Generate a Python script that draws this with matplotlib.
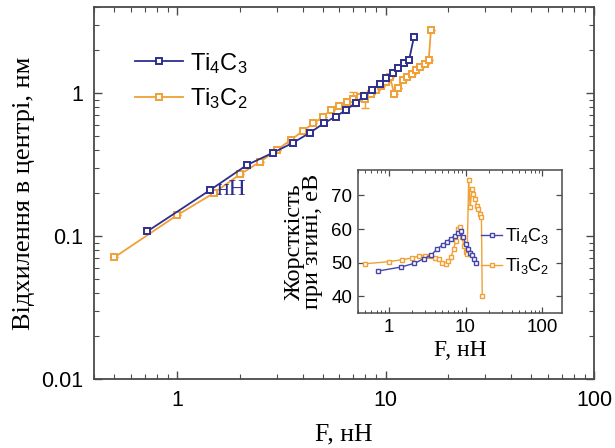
import matplotlib
matplotlib.use("Agg")
import matplotlib.pyplot as plt
from matplotlib.ticker import LogLocator, NullFormatter

# ---------------- data ----------------
ti4c3_F = [0.72, 1.44, 2.16, 2.88, 3.6, 4.32, 5.04, 5.76, 6.48, 7.2,
           7.92, 8.64, 9.36, 10.08, 10.8, 11.52, 12.24, 12.96, 13.68]
ti4c3_defl = [0.108, 0.21, 0.314, 0.383, 0.45, 0.527, 0.614, 0.687, 0.764, 0.86,
              0.96, 1.06, 1.16, 1.27, 1.38, 1.50, 1.62, 1.71, 2.47]
ti4c3_stiff = [47.5, 48.7, 49.8, 51.2, 52.3, 54.2, 55.3, 56.3, 57.2, 58.0,
               58.8, 59.3, 57.5, 55.5, 54.2, 53.0, 52.2, 51.0, 50.0]

ti3c2_F = [0.5, 1.0, 1.5, 2.0, 2.5, 3.0, 3.5, 4.0, 4.5, 5.0, 5.5, 6.0, 6.5,
           7.0, 7.5, 8.0, 8.5, 9.0, 9.5, 10.0, 10.5,
           11.0, 11.5, 12.1, 12.7, 13.4, 14.0, 14.7, 15.4, 16.1, 16.5]
ti3c2_defl = [0.071, 0.14, 0.20, 0.27, 0.331, 0.40, 0.469, 0.542, 0.614, 0.683,
              0.769, 0.811, 0.869, 0.918, 0.942, 0.904, 0.98, 1.05, 1.12, 1.20, 1.29,
              0.995, 1.096, 1.23, 1.29, 1.37, 1.45, 1.53, 1.61, 1.70, 2.76]
ti3c2_err = [0, 0, 0, 0, 0, 0, 0, 0, 0, 0, 0, 0, 0,
             0.10, 0.06, 0.12, 0, 0, 0, 0, 0,
             0, 0, 0, 0, 0, 0, 0, 0, 0, 0]
ti3c2_stiff = [49.7, 50.3, 50.9, 51.4, 52.0, 52.1, 52.0, 51.5, 51.0, 50.0, 49.5,
               50.5, 51.7, 54.2, 56.5, 60.1, 60.6, 57.5, 55.0, 53.2, 52.5,
               74.7, 66.5, 72.0, 70.5, 69.0, 67.0, 66.0, 64.5, 63.5, 40.0]

labels = [r'Ti$_4$C$_3$', r'Ti$_3$C$_2$']
main_xticks = [1, 10, 100]
main_xticklabels = ['1', '10', '100']
main_yticks = [0.01, 0.1, 1]
main_yticklabels = ['0.01', '0.1', '1']
inset_yticks = [40, 50, 60, 70]

BLUE = '#2e2e8e'
BLUE_IN = '#4646a8'
ORANGE = '#f0a035'
SANS = 'Liberation Sans'
SERIF = 'Liberation Serif'
FRAME = '#4a4a4a'

plt.rcParams['font.family'] = SANS
plt.rcParams['mathtext.fontset'] = 'custom'
plt.rcParams['mathtext.rm'] = SANS
plt.rcParams['mathtext.it'] = SANS

fig = plt.figure(figsize=(6.15, 4.48), dpi=100)
ax = fig.add_axes([0.153, 0.154, 0.813, 0.830])

ax.plot(ti4c3_F, ti4c3_defl, '-s', color=BLUE, lw=1.3, ms=4.6,
        mfc='white', mec=BLUE, mew=1.4, label=labels[0], zorder=3)
ax.errorbar(ti3c2_F, ti3c2_defl, yerr=ti3c2_err, fmt='none', ecolor=ORANGE,
            elinewidth=1.0, capsize=3, zorder=2)
ax.plot(ti3c2_F, ti3c2_defl, '-s', color=ORANGE, lw=1.3, ms=4.6,
        mfc='white', mec=ORANGE, mew=1.4, label=labels[1], zorder=2)

ax.set_xscale('log')
ax.set_yscale('log')
ax.set_xlim(0.4, 100)
ax.set_ylim(0.01, 4)
ax.set_xticks(main_xticks)
ax.set_xticklabels(main_xticklabels)
ax.set_yticks(main_yticks)
ax.set_yticklabels(main_yticklabels)
ax.xaxis.set_minor_locator(LogLocator(base=10, subs=range(2, 10), numticks=20))
ax.yaxis.set_minor_locator(LogLocator(base=10, subs=range(2, 10), numticks=20))
ax.xaxis.set_minor_formatter(NullFormatter())
ax.yaxis.set_minor_formatter(NullFormatter())
ax.tick_params(which='both', direction='in', top=True, right=True, color=FRAME)
ax.tick_params(which='major', length=6, width=1.0, labelsize=15.5)
ax.tick_params(axis='x', which='major', pad=8)
ax.tick_params(axis='y', which='major', pad=8)
ax.tick_params(which='minor', length=3.5, width=0.8)
for s in ax.spines.values():
    s.set_color(FRAME)
    s.set_linewidth(1.3)

ax.set_xlabel('F, нН', family=SERIF, fontsize=18.5, labelpad=9)
ax.set_ylabel('Відхилення в центрі, нм', family=SERIF, fontsize=19, labelpad=4)

ax.legend(loc='upper left', bbox_to_anchor=(0.04, 0.94), frameon=False,
          fontsize=17, handlelength=2.0, handletextpad=0.3, labelspacing=0.45,
          numpoints=1)

fig.text(0.377, 0.576, 'нН', family=SERIF, fontsize=17, color=BLUE,
         ha='center', va='center')

# ---------------- inset ----------------
ins = fig.add_axes([0.582, 0.301, 0.332, 0.319])
ins.set_facecolor('white')
ins.plot(ti4c3_F, ti4c3_stiff, '-s', color=BLUE_IN, lw=1.0, ms=3.0,
         mfc='white', mec=BLUE_IN, mew=1.0, label=labels[0], zorder=3)
ins.plot(ti3c2_F, ti3c2_stiff, '-s', color=ORANGE, lw=1.0, ms=3.0,
         mfc='white', mec=ORANGE, mew=1.0, label=labels[1], zorder=2)
ins.set_xscale('log')
ins.set_xlim(0.4, 180)
ins.set_ylim(35, 77.5)
ins.set_xticks(main_xticks)
ins.set_xticklabels(main_xticklabels)
ins.set_yticks(inset_yticks)
ins.xaxis.set_minor_locator(LogLocator(base=10, subs=range(2, 10), numticks=20))
ins.xaxis.set_minor_formatter(NullFormatter())
ins.tick_params(which='both', direction='in', top=True, right=True, color=FRAME)
ins.tick_params(which='major', length=4, width=0.9, labelsize=13.5, pad=4)
ins.tick_params(which='minor', length=2.2, width=0.7)
for s in ins.spines.values():
    s.set_color(FRAME)
    s.set_linewidth(1.1)
ins.set_xlabel('F, нН', family=SERIF, fontsize=17, labelpad=3)
ins.set_ylabel('Жорсткість\nпри згині, еВ', family=SERIF, fontsize=17.5,
               labelpad=6, linespacing=0.82)
ins.legend(loc='center right', bbox_to_anchor=(1.0, 0.434), frameon=False,
           fontsize=13, handlelength=1.2, handletextpad=0.15, labelspacing=0.55,
           numpoints=1, borderaxespad=0.3)

fig.savefig('out.png', dpi=100, facecolor='white')
